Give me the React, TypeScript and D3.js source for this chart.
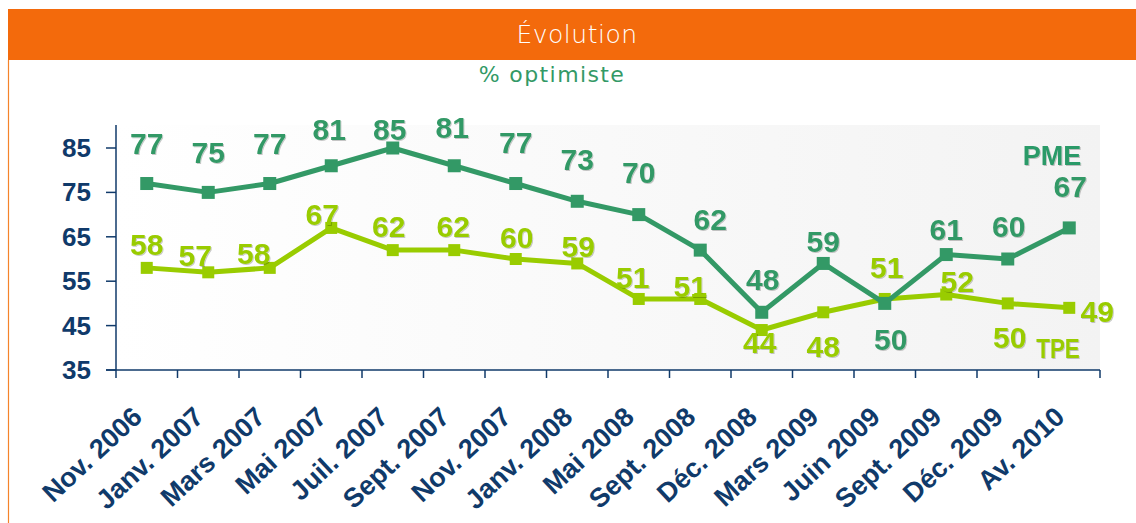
import React from "react";
import * as d3 from "d3";

const categories = ["Nov. 2006","Janv. 2007","Mars 2007","Mai 2007","Juil. 2007","Sept. 2007","Nov. 2007","Janv. 2008","Mai 2008","Sept. 2008","Déc. 2008","Mars 2009","Juin 2009","Sept. 2009","Déc. 2009","Av. 2010"];
const pme = [77,75,77,81,85,81,77,73,70,62,48,59,50,61,60,67];
const tpe = [58,57,58,67,62,62,60,59,51,51,44,48,51,52,50,49];
const yTicks = [35,45,55,65,75,85];

// label placement tweaks (dx, baseline dy in px relative to point)
const pmeLabelOff: [number, number][] = [[0,-30],[0,-29.5],[0,-30],[-2,-26],[-3,-8],[-2,-28],[0,-30.5],[0,-31],[0,-31.5],[10,-20],[1,-22],[0,-11.5],[6,46.5],[0,-14.5],[1,-22],[1,-31]];
const tpeLabelOff: [number, number][] = [[0,-13],[-13,-6],[-16,-4],[-9,-3],[-4,-13],[-1,-13],[1,-11],[1,-6.5],[-6,-11],[-10,-2],[-2,23],[0,45],[2,-21],[11,-2.5],[2,44.6],[28,14]];

const W = 1136, H = 523;
const PME_C = "#339966";
const TPE_C = "#99cc00";
const AXIS_C = "#103a6a";

export default function App() {
  const x = d3.scaleBand<string>().domain(categories).range([116, 1100]);
  const y = d3.scaleLinear().domain([35, 90]).range([370, 125.8]);
  const cx = (i: number) => (x(categories[i]) as number) + x.bandwidth() / 2;
  const line = d3.line<number>().x((_, i) => cx(i)).y((d) => y(d));
  const font = "'Liberation Sans', Arial, sans-serif";
  const bounds = [...categories.map((c) => x(c) as number), 1100];

  return (
    <svg width={W} height={H} style={{ position: "absolute", left: 0, top: 0, display: "block" }}>
      <defs>
        <linearGradient id="bg" x1="0" x2="1" y1="0" y2="0">
          <stop offset="0" stopColor="#ffffff" />
          <stop offset="1" stopColor="#f3f3f3" />
        </linearGradient>
        <filter id="sh" x="-20%" y="-20%" width="140%" height="140%">
          <feDropShadow dx="1" dy="1" stdDeviation="0.6" floodColor="#000" floodOpacity="0.22" />
        </filter>
      </defs>
      <rect x={0} y={0} width={W} height={H} fill="#fff" />
      <rect x={8} y={9} width={W - 8} height={51} fill="#f36a0c" />
      <line x1={8.5} x2={8.5} y1={60} y2={H} stroke="#f5832a" strokeWidth={1.2} />
      <text x={577} y={43} textAnchor="middle" fill="#fff" fontSize={25} fontFamily="'DejaVu Sans', sans-serif" fontWeight={300} style={{ letterSpacing: "0.5px" }}>Évolution</text>
      <text x={552} y={82} textAnchor="middle" fill={PME_C} fontSize={22} fontFamily="'DejaVu Sans', sans-serif" style={{ letterSpacing: "1.4px" }}>% optimiste</text>

      <rect x={116} y={125} width={984} height={245} fill="url(#bg)" />

      {/* y axis */}
      <line x1={116} x2={116} y1={125} y2={370} stroke={AXIS_C} strokeWidth={1.5} />
      {yTicks.map((t) => (
        <g key={t}>
          <line x1={106} x2={116} y1={y(t)} y2={y(t)} stroke={AXIS_C} strokeWidth={1.5} />
          <text x={91} y={y(t) + 9} textAnchor="end" fill={AXIS_C} fontSize={26} fontWeight="bold" fontFamily={font}>{t}</text>
        </g>
      ))}
      {/* x axis */}
      <line x1={106} x2={1100} y1={370} y2={370} stroke={AXIS_C} strokeWidth={1.5} />
      {bounds.map((b, i) => (
        <line key={i} x1={b} x2={b} y1={370} y2={378} stroke={AXIS_C} strokeWidth={1.5} />
      ))}
      {categories.map((c, i) => (
        <text key={c} transform={`translate(${cx(i) - 3},${419}) rotate(-43)`} textAnchor="end" fill={AXIS_C} fontSize={27} fontWeight="bold" fontFamily={font}>{c}</text>
      ))}

      {/* lines */}
      <path d={line(tpe) || ""} fill="none" stroke={TPE_C} strokeWidth={5} strokeLinejoin="round" />
      {tpe.map((v, i) => (
        <rect key={i} x={cx(i) - 6} y={y(v) - 6} width={12} height={12} fill={TPE_C} />
      ))}
      <path d={line(pme) || ""} fill="none" stroke={PME_C} strokeWidth={5} strokeLinejoin="round" />
      {pme.map((v, i) => (
        <rect key={i} x={cx(i) - 6.5} y={y(v) - 6.5} width={13} height={13} fill={PME_C} />
      ))}

      {/* labels */}
      {pme.map((v, i) => (
        <text key={i} x={cx(i) + pmeLabelOff[i][0]} y={y(v) + pmeLabelOff[i][1]} textAnchor="middle" fill={PME_C} fontSize={30} fontWeight="bold" fontFamily={font} filter="url(#sh)">{v}</text>
      ))}
      {tpe.map((v, i) => (
        <text key={i} x={cx(i) + tpeLabelOff[i][0]} y={y(v) + tpeLabelOff[i][1]} textAnchor="middle" fill={TPE_C} fontSize={30} fontWeight="bold" fontFamily={font} filter="url(#sh)">{v}</text>
      ))}
      <text x={1052} y={165} textAnchor="middle" fill="#2a9a68" fontSize={27} fontWeight="bold" fontFamily={font} filter="url(#sh)">PME</text>
      <text x={1058} y={358} textAnchor="middle" fill={TPE_C} fontSize={28} fontWeight="bold" fontFamily={font} filter="url(#sh)" transform="translate(1058,0) scale(0.8,1) translate(-1058,0)">TPE</text>
    </svg>
  );
}
